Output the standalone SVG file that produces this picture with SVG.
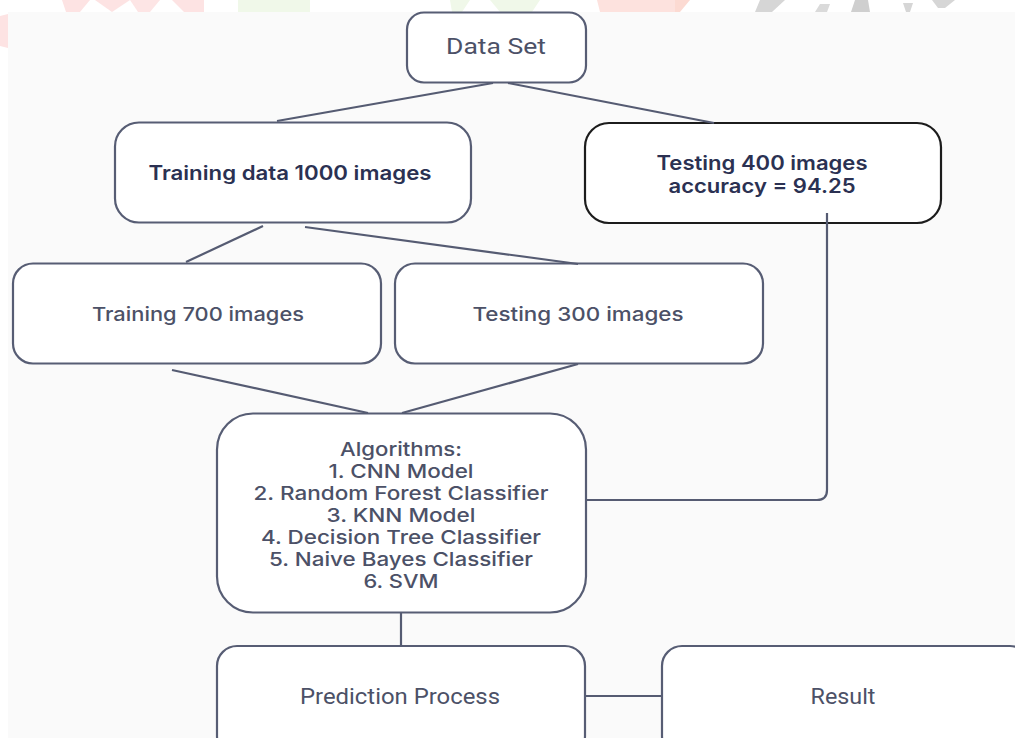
<svg xmlns="http://www.w3.org/2000/svg" width="1015" height="738" viewBox="0 0 1015 738">
<style>
.box{fill:#ffffff;stroke:#575d74;stroke-width:2.2}
.boxd{fill:#ffffff;stroke:#1c1c1c;stroke-width:2.2}
.edge{fill:none;stroke:#555b72;stroke-width:2.2}
text{text-anchor:middle}
.t{font-family:Inter,"Liberation Sans",sans-serif;font-size:19px;font-weight:500;fill:#4c5167}
.tb{font-family:Inter,"Liberation Sans",sans-serif;font-size:19.5px;font-weight:600;fill:#2b3152}
.tn{font-family:Roboto,"Liberation Sans",sans-serif;font-size:22px;font-weight:400;fill:#4c5167}
</style>
<rect x="0" y="0" width="1015" height="738" fill="#ffffff"/>
<g id="watermark">
<polygon points="62,0 90,0 80,12 66,12" fill="#fde3e3"/>
<polygon points="95,0 130,0 112,12" fill="#fde3e3"/>
<polygon points="130,0 160,0 150,12 138,12" fill="#fde5e5"/>
<polygon points="172,0 204,0 204,12 184,12" fill="#fde3e3"/>
<polygon points="238,0 310,0 310,12 238,12" fill="#f0f8e9"/>
<polygon points="450,0 470,0 462,12 452,12" fill="#f0f8e9"/>
<polygon points="490,0 540,0 532,12 500,12" fill="#f0f8e9"/>
<polygon points="597,0 680,0 676,12 600,12" fill="#fde2de"/>
<polygon points="675,0 690,0 680,12 675,12" fill="#fcdad2"/>
<polygon points="760,0 785,0 772,12 755,12" fill="#d6d6d6"/>
<polygon points="820,4 830,4 827,12 815,12" fill="#dadada"/>
<polygon points="855,0 868,0 870,12 851,12" fill="#cfcfcf"/>
<polygon points="903,3 913,3 910,12 906,12" fill="#d6d6d6"/>
<polygon points="932,0 955,0 945,8 938,8" fill="#d6d6d6"/>
<polygon points="0,16 8,14 8,48 0,46" fill="#fde3e3"/>
</g>
<rect x="8" y="12" width="1007" height="726" fill="#fafafa"/>
<g id="n-dataset">
<rect class="box" x="407" y="12.5" width="179" height="70" rx="17"/>
<text class="tn" x="496" y="54" textLength="100" lengthAdjust="spacingAndGlyphs">Data Set</text>
</g>
<g id="n-training1000">
<rect class="box" x="115" y="122.5" width="356" height="100" rx="24"/>
<text class="tb" x="290" y="180" textLength="283" lengthAdjust="spacingAndGlyphs">Training data 1000 images</text>
</g>
<g id="n-testing400">
<rect class="boxd" x="585" y="123" width="356" height="100" rx="24"/>
<text class="tb" x="762" y="170" textLength="211" lengthAdjust="spacingAndGlyphs">Testing 400 images</text>
<text class="tb" x="762" y="193" textLength="187" lengthAdjust="spacingAndGlyphs">accuracy = 94.25</text>
</g>
<g id="n-training700">
<rect class="box" x="13" y="263.5" width="368" height="100" rx="20"/>
<text class="t" x="198" y="321" textLength="212" lengthAdjust="spacingAndGlyphs">Training 700 images</text>
</g>
<g id="n-testing300">
<rect class="box" x="395" y="263.5" width="368" height="100" rx="20"/>
<text class="t" x="578" y="321" textLength="211" lengthAdjust="spacingAndGlyphs">Testing 300 images</text>
</g>
<g id="n-algorithms">
<rect class="box" x="217" y="413.5" width="369" height="199" rx="36"/>
<text class="t" x="401" y="456" textLength="122" lengthAdjust="spacingAndGlyphs">Algorithms:</text>
<text class="t" x="401" y="478" textLength="145" lengthAdjust="spacingAndGlyphs">1. CNN Model</text>
<text class="t" x="401" y="500" textLength="295" lengthAdjust="spacingAndGlyphs">2. Random Forest Classifier</text>
<text class="t" x="401" y="522" textLength="149" lengthAdjust="spacingAndGlyphs">3. KNN Model</text>
<text class="t" x="401" y="544" textLength="280" lengthAdjust="spacingAndGlyphs">4. Decision Tree Classifier</text>
<text class="t" x="401" y="566" textLength="264" lengthAdjust="spacingAndGlyphs">5. Naive Bayes Classifier</text>
<text class="t" x="401" y="588" textLength="75" lengthAdjust="spacingAndGlyphs">6. SVM</text>
</g>
<g id="n-prediction">
<rect class="box" x="217" y="646" width="368" height="110" rx="20"/>
<text class="tn" x="400" y="704" textLength="200" lengthAdjust="spacingAndGlyphs">Prediction Process</text>
</g>
<g id="n-result">
<rect class="box" x="662" y="646" width="368" height="110" rx="20"/>
<text class="tn" x="843" y="704" textLength="65" lengthAdjust="spacingAndGlyphs">Result</text>
</g>
<g id="connectors">
<line class="edge" x1="493" y1="83" x2="277" y2="121"/>
<line class="edge" x1="508" y1="83" x2="714" y2="123"/>
<line class="edge" x1="263" y1="226" x2="186" y2="262"/>
<line class="edge" x1="305" y1="227" x2="578" y2="264"/>
<line class="edge" x1="172" y1="370" x2="368" y2="413"/>
<line class="edge" x1="578" y1="364" x2="402" y2="413"/>
<path class="edge" d="M827,213 V490 Q827,500 817,500 H587"/>
<line class="edge" x1="401" y1="613" x2="401" y2="646"/>
<line class="edge" x1="586" y1="696" x2="661" y2="696"/>
</g>
</svg>
